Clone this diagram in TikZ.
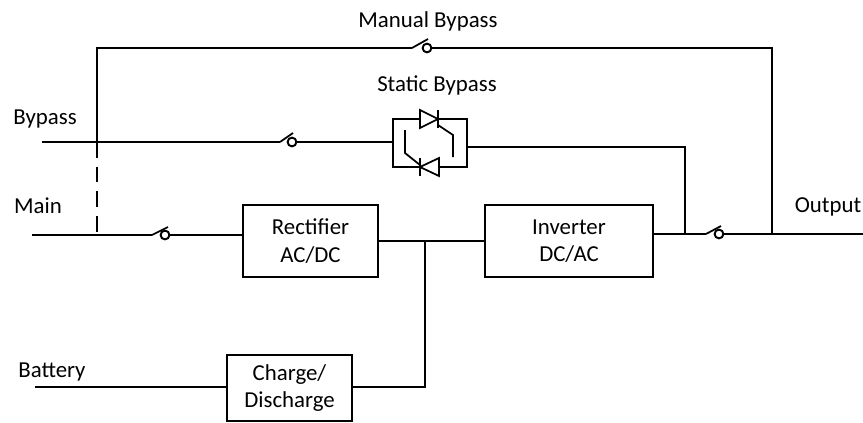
\documentclass[tikz,border=0pt]{standalone}
\usepackage{fontspec}
\setmainfont{Carlito}
\usepackage{tikz}

\begin{document}
\begin{tikzpicture}[x=0.02cm, y=-0.02cm, line width=1pt,
    every node/.style={font=\fontsize{13}{15.5}\selectfont, inner sep=0pt, outer sep=0pt},
    unit/.style={draw, align=center, line width=1pt},
    contact/.style={draw, circle, minimum size=5pt, line width=1.1pt, fill=white}]
    \useasboundingbox (0,0) rectangle (863,423);

    % labels
    \node (lmanual) at (428,21) {Manual Bypass};
    \node (lstatic) at (437,85) {Static Bypass};
    \node (lbypass) at (45,119) {Bypass};
    \node (lmain) at (38,206) {Main};
    \node (loutput) at (828,207) {Output};
    \node (lbattery) at (52,372) {Battery};

    % blocks
    \node[unit, minimum width=2.7cm, minimum height=1.44cm] (rect) at (310.5,241) {Rectifier\\AC/DC};
    \node[unit, minimum width=3.36cm, minimum height=1.44cm] (inv) at (569,241) {Inverter\\DC/AC};
    \node[unit, minimum width=2.5cm, minimum height=1.32cm] (chg) at (289.5,388) {Charge/\\Discharge};
    \node[unit, minimum width=1.48cm, minimum height=0.96cm] (sbp) at (430,143) {};

    % line ends and junctions
    \coordinate (bypin) at (42,142);
    \coordinate (mainin) at (32,235);
    \coordinate (batin) at (35,387);
    \coordinate (outend) at (863,234);
    \coordinate (jtop) at (97,142);
    \coordinate (jmain) at (97,235);
    \coordinate (jbus) at (425,241);
    \coordinate (jret) at (685,234);
    \coordinate (jout) at (772,234);

    % switches
    \coordinate (mb1) at (412,48);
    \node[contact] (mb2) at (427,48) {};
    \coordinate (bp1) at (280,142);
    \node[contact] (bp2) at (292,142) {};
    \coordinate (mn1) at (152,235);
    \node[contact] (mn2) at (165,235) {};
    \coordinate (os1) at (706,234);
    \node[contact] (os2) at (719,234) {};
    \draw (mb1) -- ++(16,-9);
    \draw (bp1) -- ++(13,-9);
    \draw (mn1) -- ++(16,-8);
    \draw (os1) -- ++(15,-8);

    % manual bypass
    \draw (jtop) |- (mb1);
    \draw (mb2) -| (jout);
    \draw[dashed, dash pattern=on 9pt off 5pt] (jtop) -- (jmain);

    % bypass and main inputs
    \draw (bypin) -- (bp1);
    \draw (bp2) -- (sbp.west |- bp2);
    \draw (mainin) -- (mn1);
    \draw (mn2) -- (rect.west |- mn2);

    % dc bus and battery
    \draw (rect.east |- jbus) -- (inv.west |- jbus);
    \draw (batin) -- (chg.west |- batin);
    \draw (chg.east |- batin) -| (jbus);

    % output
    \draw (inv.east |- os1) -- (os1);
    \draw (os2) -- (outend);
    \draw (sbp.east |- 0,147) -| (jret);

    % thyristors
    \draw[fill=white] (420,110) -- (420,128) -- (438,119) -- cycle;
    \draw (438,110) -- (438,128);
    \draw (438,125) -- (453,135) -- (453,157);
    \draw[fill=white] (439,158) -- (439,176) -- (420,167) -- cycle;
    \draw (420,158) -- (420,176);
    \draw (420,165) -- (405,153) -- (405,130);
\end{tikzpicture}
\end{document}
